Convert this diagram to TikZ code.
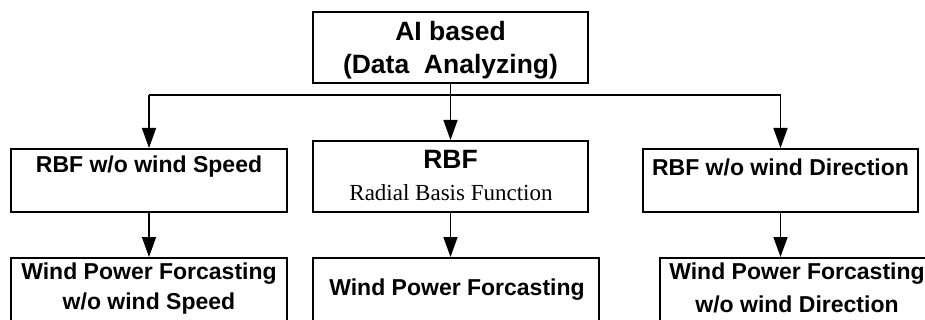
\documentclass[tikz,border=0pt]{standalone}
\usepackage{fontspec}
\setmainfont{Liberation Sans}
\newfontfamily\serifrm{Liberation Serif}
\usetikzlibrary{arrows.meta}
\begin{document}
\begin{tikzpicture}[x=1pt,y=-1pt,
  box/.style={draw=black,line width=2pt,rectangle,inner sep=0pt},
  lbl/.style={inner sep=0pt,font=\fontsize{23}{27}\selectfont\bfseries,align=center},
  biglbl/.style={inner sep=0pt,font=\fontsize{26.5}{30}\selectfont\bfseries,align=center},
  slbl/.style={inner sep=0pt,font=\fontsize{23}{27}\selectfont\serifrm},
  arr/.style={line width=1.5pt,-{Triangle[length=20pt,width=14pt]}},
  ln/.style={line width=1.5pt}]
\useasboundingbox (0,0) rectangle (925,320);
\clip (0,0) rectangle (925,320);
% boxes
\node[box,minimum width=275pt,minimum height=71pt] (top) at (450.5,47.5) {};
\node[box,minimum width=276pt,minimum height=63pt] (left) at (149,180.5) {};
\node[box,minimum width=275pt,minimum height=71pt] (mid) at (450.5,176.5) {};
\node[box,minimum width=275pt,minimum height=63pt] (right) at (780.5,180.5) {};
\node[box,minimum width=276pt,minimum height=80pt] (bl) at (149,298) {};
\node[box,minimum width=286pt,minimum height=80pt] (bc) at (456,298) {};
\node[box,minimum width=280pt,minimum height=80pt] (br) at (800,298) {};
% texts
\node[biglbl] (t1) at (450.5,31) {AI based};
\node[biglbl] (t2) at (450.5,67) {(Data\ \ Analyzing)};
\node[lbl] (tl) at (149,167) {RBF w/o wind Speed};
\node[biglbl] (tm1) at (450.5,159) {RBF};
\node[slbl] (tm2) at (451,193) {Radial Basis Function};
\node[lbl] (tr) at (780.5,167) {RBF w/o wind Direction};
\node[lbl] (tbl1) at (149,274) {Wind Power Forcasting};
\node[lbl] (tbl2) at (149,304) {w/o wind Speed};
\node[lbl] (tbc) at (457,290) {Wind Power Forcasting};
\node[lbl] (tbr1) at (797,274) {Wind Power Forcasting};
\node[lbl] (tbr2) at (797,304) {w/o wind Direction};
% connectors
\coordinate (j) at (450.5,95);
\draw[arr] (top.south) -- (mid.north);
\draw[ln] (j -| left.north) -- (j -| right.north);
\draw[arr] (j -| left.north) -- (left.north);
\draw[arr] (j -| right.north) -- (right.north);
\draw[arr] (left.south) -- (left.south |- bl.north);
\draw[arr] (mid.south) -- (mid.south |- bc.north);
\draw[arr] (right.south) -- (right.south |- br.north);
\end{tikzpicture}
\end{document}
